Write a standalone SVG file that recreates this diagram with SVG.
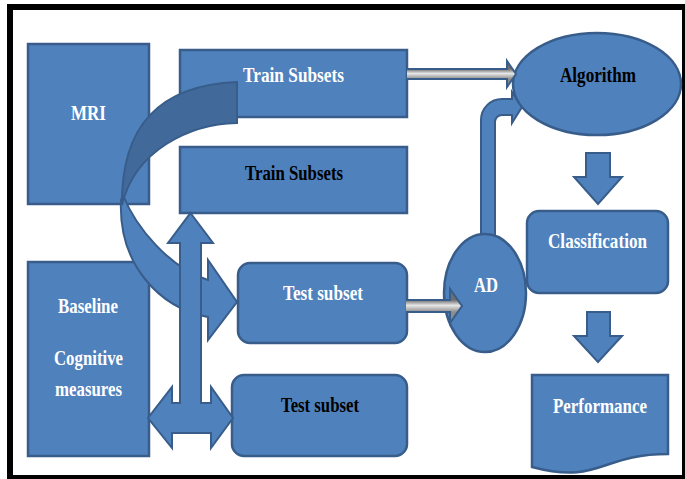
<svg xmlns="http://www.w3.org/2000/svg" width="685" height="479" viewBox="0 0 685 479">
<defs>
<style>
.box{fill:#4F81BD;stroke:#385D8A;stroke-width:2.5}
.arr{fill:#4F81BD;stroke:#385D8A;stroke-width:2;stroke-linejoin:miter}
.dark{fill:#41699A;stroke:#385D8A;stroke-width:2}
.t{font-family:"Liberation Serif","Times New Roman",serif;font-weight:bold;font-size:22px;text-anchor:middle}
.w{fill:#FFFFFF}
.k{fill:#000000}
</style>
<linearGradient id="g1" gradientUnits="userSpaceOnUse" x1="0" y1="69" x2="0" y2="79">
<stop offset="0" stop-color="#6E6E6E"/>
<stop offset="0.45" stop-color="#E6E6E6"/>
<stop offset="1" stop-color="#8C8C8C"/>
</linearGradient>
<linearGradient id="g2" gradientUnits="userSpaceOnUse" x1="0" y1="300" x2="0" y2="312">
<stop offset="0" stop-color="#6E6E6E"/>
<stop offset="0.45" stop-color="#E6E6E6"/>
<stop offset="1" stop-color="#8C8C8C"/>
</linearGradient>
</defs>
<rect x="0" y="0" width="685" height="479" fill="#FFFFFF"/>
<g id="frame" fill="#000000">
<rect x="7" y="4" width="678" height="6"/>
<rect x="7" y="4" width="6" height="475"/>
<rect x="682" y="4" width="3" height="475"/>
<rect x="7" y="475" width="678" height="4"/>
</g>
<g id="mri"><rect class="box" x="28" y="44" width="121" height="160"/><text class="t w" x="88.5" y="120" textLength="35" lengthAdjust="spacingAndGlyphs">MRI</text></g>
<g id="baseline"><rect class="box" x="28" y="262" width="121" height="194"/>
<text class="t w" x="88" y="313" textLength="60" lengthAdjust="spacingAndGlyphs">Baseline</text>
<text class="t w" x="88.5" y="365" textLength="69" lengthAdjust="spacingAndGlyphs">Cognitive</text>
<text class="t w" x="88.5" y="395.5" textLength="67" lengthAdjust="spacingAndGlyphs">measures</text></g>
<g id="train1"><rect class="box" x="180" y="50" width="227" height="67"/><text class="t w" x="293.5" y="82" textLength="101" lengthAdjust="spacingAndGlyphs">Train Subsets</text></g>
<g id="train2"><rect class="box" x="180" y="147" width="227" height="66"/><text class="t k" x="294" y="180" textLength="98" lengthAdjust="spacingAndGlyphs">Train Subsets</text></g>
<g id="test1"><rect class="box" x="238" y="263" width="169" height="80" rx="12"/><text class="t w" x="323" y="300" textLength="80" lengthAdjust="spacingAndGlyphs">Test subset</text></g>
<g id="test2"><rect class="box" x="232" y="375" width="175" height="81" rx="12"/><text class="t k" x="320" y="411.5" textLength="78" lengthAdjust="spacingAndGlyphs">Test subset</text></g>
<g id="connectors">
<path class="arr" d="M123,195 C136,228 170,268 208,280 L208,260 L237,302 L208,340 L208,317 C160,308 118,265 121,200 Z"/>
<path class="dark" d="M237,82 C165,85 121,120 122,205 C135,150 190,124 237,123 Z"/>
<path class="arr" d="M190.5,213 L213,243 H201 V403 H211 V387 L233,418 L211,448 V433 H172 V448 L148,418 L172,387 V403 H180 V243 H168 Z"/>
<path class="arr" d="M481,236 V120 A21,21 0 0 1 502,99 H512 V92 L522,107 L512,123 V115 H502 A7,7 0 0 0 495,122 V236"/>
</g>
<g id="ad"><ellipse class="box" cx="485" cy="293" rx="41" ry="59"/><text class="t w" x="486" y="291.5" textLength="24" lengthAdjust="spacingAndGlyphs">AD</text></g>
<g id="algorithm"><ellipse class="box" cx="597" cy="84" rx="84" ry="51"/><text class="t k" x="598" y="81.5" textLength="76" lengthAdjust="spacingAndGlyphs">Algorithm</text></g>
<g id="classification"><rect class="box" x="527" y="211" width="141" height="82" rx="12"/><text class="t w" x="597.5" y="248" textLength="99" lengthAdjust="spacingAndGlyphs">Classification</text></g>
<g id="performance"><path class="box" d="M532,375 H668 V454 C600,454 600,485 532,467 Z"/><text class="t w" x="600" y="412.5" textLength="94" lengthAdjust="spacingAndGlyphs">Performance</text></g>
<g id="connectors2">
<path class="arr" style="fill:url(#g1)" d="M407,69 H507 V61 L516,74 L507,87 V79 H407"/>
<path class="arr" style="fill:url(#g2)" d="M406,300 H450 V289 L462,306 L450,323 V312 H406"/>
<path class="arr" d="M586,153 H610 V177 H622 L598,204 L574,177 H586 Z"/>
<path class="arr" d="M587,312 H610 V336 H622 L598,362 L574,336 H587 Z"/>
</g>
</svg>
